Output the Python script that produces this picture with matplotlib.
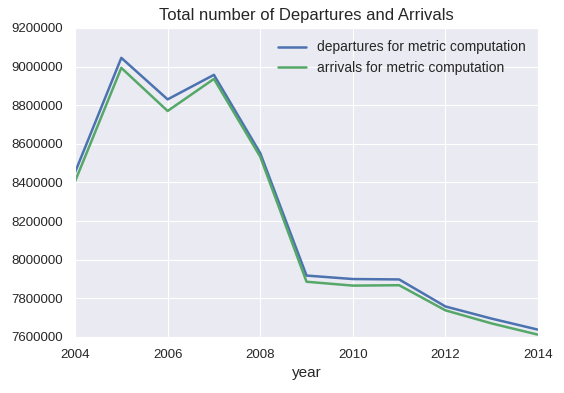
import matplotlib

matplotlib.use("Agg")
import matplotlib.pyplot as plt
import seaborn as sns
from matplotlib.ticker import FuncFormatter

years = [2004, 2005, 2006, 2007, 2008, 2009, 2010, 2011, 2012, 2013, 2014]
departures = [8452000, 9045000, 8830000, 8957000, 8552000, 7918000,
              7900000, 7898000, 7758000, 7695000, 7638000]
arrivals = [8405000, 8993000, 8770000, 8936000, 8533000, 7886000,
            7866000, 7868000, 7738000, 7670000, 7612000]

BLUE = "#4C72B0"
GREEN = "#55A868"

sns.set_style("darkgrid")
plt.rcParams["font.family"] = ["Liberation Sans", "DejaVu Sans"]
plt.rcParams["axes.unicode_minus"] = False

fig = plt.figure(figsize=(5.64, 3.93), dpi=100)
ax = fig.add_axes([0.133, 0.1425, 0.821, 0.7865])

ax.plot(years, departures, color=BLUE, lw=1.8,
        label="departures for metric computation")
ax.plot(years, arrivals, color=GREEN, lw=1.8,
        label="arrivals for metric computation")

ax.set_xlim(2004, 2014)
ax.set_ylim(7600000, 9200000)
ax.set_xticks(range(2004, 2015, 2))
ax.set_yticks(range(7600000, 9200001, 200000))
ax.yaxis.set_major_formatter(FuncFormatter(lambda v, p: f"{int(v)}"))
ax.tick_params(labelsize=9.5, colors="#262626", length=0, pad=8.5)

ax.set_xlabel("year", fontsize=11, color="#262626", labelpad=4)
ax.set_title("Total number of Departures and Arrivals", fontsize=12,
             color="#262626")
ax.legend(loc="upper right", frameon=False, fontsize=10)

fig.savefig("out.png", dpi=100)
